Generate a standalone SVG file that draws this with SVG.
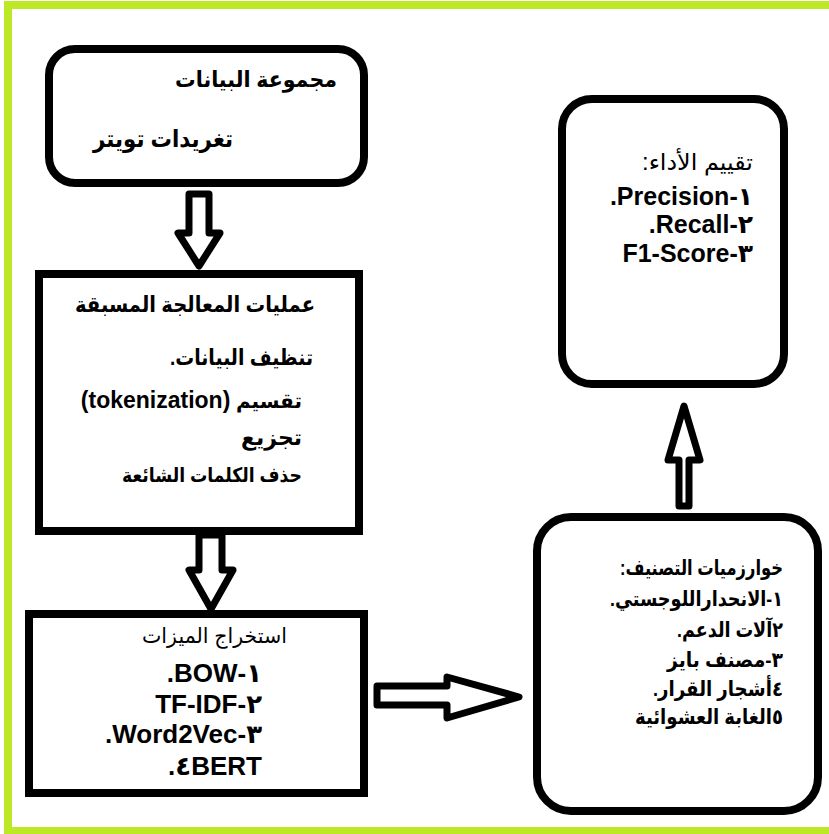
<svg xmlns="http://www.w3.org/2000/svg" width="829" height="834" viewBox="0 0 829 834">
<style>
.box{fill:#fff;stroke:#000;stroke-width:8}
.arr{fill:#fff;stroke:#000;stroke-width:7;stroke-linejoin:round}
text{font-family:"Liberation Sans","DejaVu Sans",sans-serif;fill:#000;direction:rtl;text-anchor:start}
.b{font-weight:bold}
</style>
<rect x="0" y="0" width="829" height="834" fill="#fff"/>
<rect x="8" y="5" width="830" height="826" fill="none" stroke="#bde825" stroke-width="8"/>
<g id="connectors">
<path class="arr" d="M189,194 H209 V233 H220 L199,266 L178,233 H189 Z"/>
<path class="arr" d="M199,535 H222 V570 H233 L211,609 L189,570 H199 Z"/>
<path class="arr" d="M377,686 H447 V677 L519,697 L447,718 V705 H377 Z"/>
<path class="arr" d="M679,506 V460 H668 L684,406 L700,460 H689 V506 Z"/>
</g>
<g id="dataset">
<rect class="box" x="49" y="49" width="315" height="134" rx="26"/>
<text class="b" x="337" y="87" font-size="22" textLength="162" lengthAdjust="spacingAndGlyphs">مجموعة البيانات</text>
<text class="b" x="233" y="147" font-size="24" textLength="140" lengthAdjust="spacingAndGlyphs">تغريدات تويتر</text>
</g>
<g id="preprocessing">
<rect class="box" x="39" y="274" width="320" height="257"/>
<text class="b" x="315" y="312" font-size="22" textLength="240" lengthAdjust="spacingAndGlyphs">عمليات المعالجة المسبقة</text>
<text class="b" x="313" y="365" font-size="22" textLength="143" lengthAdjust="spacingAndGlyphs">تنظيف البيانات.</text>
<text class="b" x="302" y="408" font-size="20">تقسيم <tspan font-size="23">(tokenization)</tspan></text>
<text class="b" x="302" y="445" font-size="22">تجزيع</text>
<text class="b" x="302" y="482" font-size="20" textLength="180" lengthAdjust="spacingAndGlyphs">حذف الكلمات الشائعة</text>
</g>
<g id="features">
<rect class="box" x="29" y="614" width="335" height="179"/>
<text x="287" y="643" font-size="21" textLength="145" lengthAdjust="spacingAndGlyphs">استخراج الميزات</text>
<text class="b" x="262" y="682" font-size="26">١-BOW.</text>
<text class="b" x="262" y="713" font-size="26">٢-TF-IDF</text>
<text class="b" x="262" y="743" font-size="26">٣-Word2Vec.</text>
<text class="b" x="262" y="775" font-size="26">٤BERT.</text>
</g>
<g id="classification">
<rect class="box" x="537" y="517" width="281" height="294" rx="34"/>
<text class="b" x="783" y="575" font-size="21" textLength="163" lengthAdjust="spacingAndGlyphs">خوارزميات التصنيف:</text>
<text class="b" x="783" y="606" font-size="21" textLength="173" lengthAdjust="spacingAndGlyphs">١-الانحداراللوجستي.</text>
<text class="b" x="783" y="637" font-size="21" textLength="106" lengthAdjust="spacingAndGlyphs">٢آلات الدعم.</text>
<text class="b" x="783" y="667" font-size="21" textLength="116" lengthAdjust="spacingAndGlyphs">٣-مصنف بايز</text>
<text class="b" x="783" y="696" font-size="21" textLength="130" lengthAdjust="spacingAndGlyphs">٤أشجار القرار.</text>
<text class="b" x="783" y="724" font-size="21" textLength="148" lengthAdjust="spacingAndGlyphs">٥الغابة العشوائية</text>
</g>
<g id="evaluation">
<rect class="box" x="562" y="99" width="222" height="285" rx="30"/>
<text x="753" y="170" font-size="23" textLength="111" lengthAdjust="spacingAndGlyphs">تقييم الأداء:</text>
<text class="b" x="753" y="205" font-size="25">١-Precision.</text>
<text class="b" x="753" y="233" font-size="25">٢-Recall.</text>
<text class="b" x="753" y="262" font-size="25">٣-F1-Score</text>
</g>
</svg>
